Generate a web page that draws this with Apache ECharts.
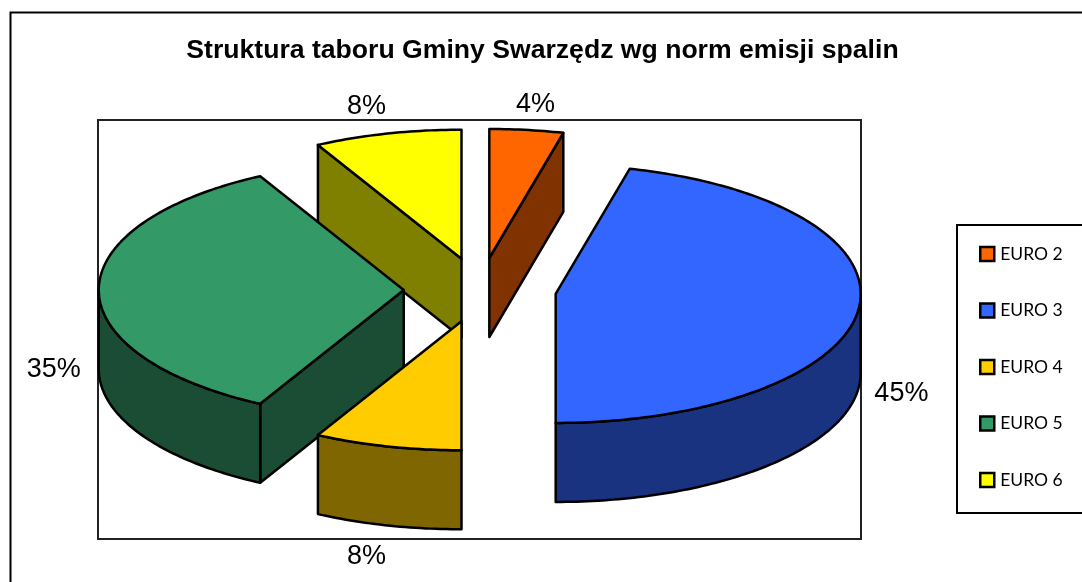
<!DOCTYPE html>
<html>
<head>
<meta charset="utf-8">
<style>
  html, body { margin: 0; padding: 0; background: #fff; }
  #chart { width: 1082px; height: 582px; }
</style>
<script src="https://cdn.jsdelivr.net/npm/echarts@6/dist/echarts.min.js"></script>
</head>
<body>
<div id="chart"></div>
<script>
// values, printed labels kept as they stand in the picture
const categories = ["EURO 2", "EURO 3", "EURO 4", "EURO 5", "EURO 6"];
const values = [3.9, 46.1, 7.8, 34.4, 7.8];
const valueLabels = ["4%", "45%", "8%", "35%", "8%"];
const colors = ["#FF6600", "#3366FF", "#FFCC00", "#339966", "#FFFF00"];
const darkColors = ["#803300", "#1A3380", "#806600", "#1A4D33", "#808000"];
// painter order per category, back slices get the low numbers
const sliceZ = [1, 4, 5, 3, 2];
// label shift from the slice's rim point
const labelShift = [[9, -25], [43, 5], [-21, 31], [-45, 1], [-21, -27]];

const pie = { cx: 480, cy: 290, rx: 305, ry: 129, depth: 79, explode: 0.25 };
const total = values.reduce((a, b) => a + b, 0);

function rimPoint(o, deg, drop) {
  const t = deg * Math.PI / 180;
  return [o[0] + pie.rx * Math.sin(t), o[1] - pie.ry * Math.cos(t) + drop];
}

function arc(o, from, to, drop) {
  const pts = [];
  const n = Math.max(2, Math.ceil(Math.abs(to - from)));
  for (let i = 0; i <= n; i++) {
    pts.push(rimPoint(o, from + (to - from) * i / n, drop));
  }
  return pts;
}

function sliceItem(idx) {
  return function (params, api) {
    let before = 0;
    for (let i = 0; i < idx; i++) before += values[i];
    const a = before / total * 360;
    const b = a + api.value(0) / total * 360;
    const mid = (a + b) / 2;
    const t = mid * Math.PI / 180;
    const o = [
      pie.cx + pie.explode * pie.rx * Math.sin(t),
      pie.cy - pie.explode * pie.ry * Math.cos(t)
    ];
    const base = [o[0], o[1] + pie.depth];
    const edge = { stroke: "#000", lineWidth: 2.5, lineJoin: "round" };
    const dark = Object.assign({ fill: darkColors[idx] }, edge);
    const children = [];

    // cut faces, only the ones turned to the viewer
    [a, b].forEach(function (deg, k) {
      const s = Math.sin(deg * Math.PI / 180);
      const show = k === 0 ? s < -0.001 : s > 0.001;
      if (show) {
        children.push({
          type: "polygon",
          shape: { points: [o, rimPoint(o, deg, 0), rimPoint(o, deg, pie.depth), base] },
          style: dark
        });
      }
    });

    // outer wall, front half of the ellipse
    const w0 = Math.max(a, 90);
    const w1 = Math.min(b, 270);
    if (w1 > w0) {
      children.push({
        type: "polygon",
        shape: { points: arc(o, w0, w1, 0).concat(arc(o, w1, w0, pie.depth)) },
        style: dark
      });
    }

    // top
    children.push({
      type: "polygon",
      shape: { points: [o].concat(arc(o, a, b, 0)) },
      style: Object.assign({ fill: colors[idx] }, edge)
    });

    // value label
    const rim = rimPoint(o, mid, Math.cos(t) < 0 ? pie.depth : 0);
    children.push({
      type: "text",
      style: {
        text: valueLabels[idx],
        x: rim[0] + labelShift[idx][0],
        y: rim[1] + labelShift[idx][1],
        textAlign: "center",
        textVerticalAlign: "middle",
        fill: "#000",
        font: "27px 'Liberation Sans'"
      }
    });

    return { type: "group", children: children };
  };
}

const chart = echarts.init(document.getElementById("chart"), null, { renderer: "canvas" });

const option = {
  animation: false,
  backgroundColor: "#fff",
  title: {
    text: "Struktura taboru Gminy Swarzędz wg norm emisji spalin",
    left: 537.5,
    top: 32,
    textAlign: "center",
    textStyle: {
      fontFamily: "Liberation Sans",
      fontWeight: "bold",
      fontSize: 26.6,
      color: "#000"
    }
  },
  grid: {
    show: true,
    left: 98,
    top: 120,
    width: 763,
    height: 419,
    borderColor: "#222",
    borderWidth: 2,
    backgroundColor: "#fff"
  },
  xAxis: { show: false, type: "value", min: 0, max: 1 },
  yAxis: { show: false, type: "value", min: 0, max: 1 },
  legend: {
    data: categories,
    orient: "vertical",
    left: 957,
    top: 225,
    padding: [20, 60, 24, 22],
    backgroundColor: "#fff",
    borderColor: "#000",
    borderWidth: 2,
    itemWidth: 14,
    itemHeight: 14,
    itemGap: 38.5,
    icon: "rect",
    itemStyle: { borderColor: "#000", borderWidth: 2.5 },
    textStyle: { fontFamily: "Lato", fontSize: 17.5, color: "#000", padding: [0, 0, 0, 1] },
    selectedMode: false
  },
  graphic: [{
    type: "rect",
    silent: true,
    z: -1,
    shape: { x: 10.5, y: 12.5, width: 1200, height: 700 },
    style: { fill: "none", stroke: "#000", lineWidth: 2 }
  }],
  series: categories.map(function (name, i) {
    return {
      name: name,
      type: "custom",
      coordinateSystem: "none",
      z: sliceZ[i] + 2,
      silent: true,
      itemStyle: { color: colors[i] },
      data: [values[i]],
      renderItem: sliceItem(i)
    };
  })
};

chart.setOption(option);

window.addEventListener("resize", function () {
  chart.resize();
});
</script>
</body>
</html>
